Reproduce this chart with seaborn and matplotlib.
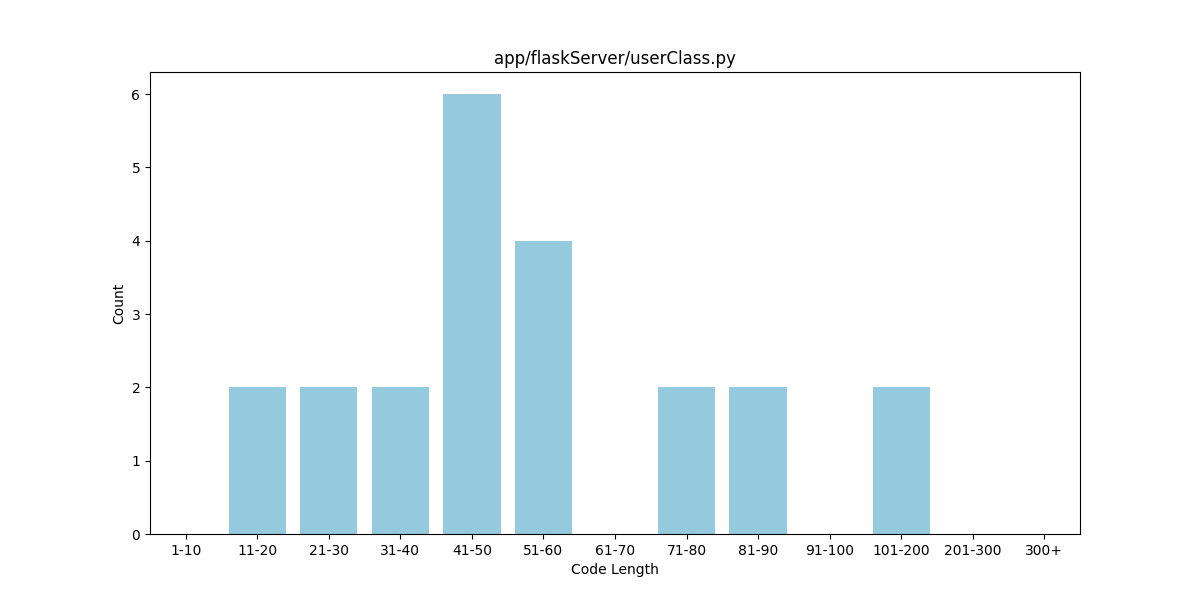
import matplotlib
matplotlib.use("Agg")
import matplotlib.pyplot as plt
import seaborn as sns
import pandas as pd

# code length bins and function counts
length_bins = ["1-10", "11-20", "21-30", "31-40", "41-50", "51-60", "61-70",
               "71-80", "81-90", "91-100", "101-200", "201-300", "300+"]
counts = [0, 2, 2, 2, 6, 4, 0, 2, 2, 0, 2, 0, 0]

df = pd.DataFrame({"Code Length": length_bins, "Count": counts})

fig, ax = plt.subplots(figsize=(12, 6), dpi=100)
sns.barplot(data=df, x="Code Length", y="Count", color="skyblue", ax=ax)
ax.set_title("app/flaskServer/userClass.py")
ax.set_xlabel("Code Length")
ax.set_ylabel("Count")

fig.savefig("out.png", dpi=100)
